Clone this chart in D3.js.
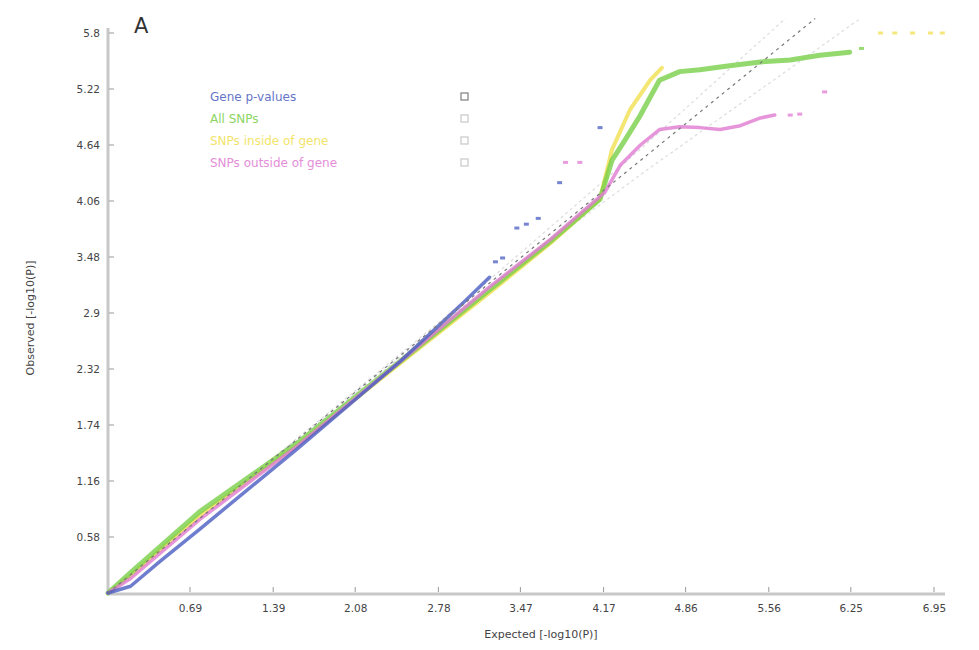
<!DOCTYPE html>
<html><head><meta charset="utf-8">
<script src="https://cdn.jsdelivr.net/npm/d3@7"></script>
<style>body{margin:0;background:#fff;} svg{display:block;}</style>
</head><body><svg id="c" width="979" height="650"></svg>
<script>
const xTicks = [0.69, 1.39, 2.08, 2.78, 3.47, 4.17, 4.86, 5.56, 6.25, 6.95];
const yTicks = [0.58, 1.16, 1.74, 2.32, 2.9, 3.48, 4.06, 4.64, 5.22, 5.8];
const seriesNames = ["Gene p-values", "All SNPs", "SNPs inside of gene", "SNPs outside of gene"];
const seriesColors = ["#4a5cc0", "#78cf48", "#f0e050", "#e07ad2"];

// [expected, observed]
const geneLine = [[0,0],[0.19,0.07],[0.44,0.33],[0.77,0.66],[1.6,1.50],[2.46,2.40],[3.0,3.02],[3.21,3.27]];
const genePts = [[3.26,3.43],[3.32,3.47],[3.44,3.78],[3.52,3.82],[3.62,3.88],[3.80,4.25],[4.14,4.82]];
const allLine = [[0,0],[0.19,0.21],[0.77,0.84],[1.6,1.56],[2.46,2.40],[3.2,3.13],[3.72,3.64],[4.14,4.08],[4.24,4.48],[4.35,4.69],[4.48,4.95],[4.64,5.31],[4.81,5.40],[4.98,5.42],[5.23,5.46],[5.49,5.50],[5.74,5.52],[5.99,5.57],[6.24,5.60]];
const allPts = [[6.34,5.64]];
const insideLine = [[0,0],[0.19,0.18],[0.77,0.80],[1.6,1.54],[2.46,2.38],[3.2,3.10],[3.72,3.62],[4.14,4.08],[4.24,4.59],[4.39,5.00],[4.56,5.31],[4.66,5.44]];
const insidePts = [[6.50,5.80],[6.62,5.80],[6.77,5.80],[6.92,5.80],[7.02,5.80]];
const outsideLine = [[0,0],[0.19,0.15],[0.77,0.76],[1.6,1.53],[2.46,2.40],[3.2,3.16],[3.72,3.66],[4.18,4.15],[4.31,4.43],[4.48,4.64],[4.64,4.80],[4.81,4.83],[4.98,4.82],[5.15,4.80],[5.32,4.84],[5.49,4.92],[5.61,4.95]];
const outsidePts = [[3.85,4.46],[3.97,4.46],[5.74,4.95],[5.82,4.96],[6.03,5.19]];
const diagLine = [[0,0],[5.95,5.95]];
const ciUpper = [[0,0],[3,3.02],[4.5,4.62],[5.70,5.95]];
const ciLower = [[0,0],[3,2.98],[4.5,4.35],[6.33,5.95]];

const svg = d3.select("#c");
const x = d3.scaleLinear().domain([0, 6.95]).range([108, 934]);
const y = d3.scaleLinear().domain([0, 5.8]).range([593, 33]);

// axes
const gx = svg.append("g").attr("transform","translate(0,593)")
  .call(d3.axisBottom(x).tickValues(xTicks).tickSize(0).tickPadding(12).tickFormat(d=>d));
gx.select(".domain").remove();
const gy = svg.append("g").attr("transform","translate(108,0)")
  .call(d3.axisLeft(y).tickValues(yTicks).tickSize(0).tickPadding(8).tickFormat(d=>d));
gy.select(".domain").remove();
svg.selectAll(".tick text").attr("font-family","DejaVu Sans").attr("font-size",10.5).attr("fill","#444");

svg.append("line").attr("x1",108).attr("x2",945).attr("y1",594).attr("y2",594).attr("stroke","#c8c8c8").attr("stroke-width",3);
svg.append("line").attr("x1",108).attr("x2",108).attr("y1",28).attr("y2",594).attr("stroke","#c8c8c8").attr("stroke-width",3);
// tick marks
svg.append("g").selectAll("line").data(xTicks).join("line")
  .attr("x1",d=>x(d)).attr("x2",d=>x(d)).attr("y1",592).attr("y2",587).attr("stroke","#999").attr("stroke-width",1);
svg.append("g").selectAll("line").data(yTicks).join("line")
  .attr("x1",109).attr("x2",114).attr("y1",d=>y(d)).attr("y2",d=>y(d)).attr("stroke","#999").attr("stroke-width",1);

const line = d3.line().x(d=>x(d[0])).y(d=>y(d[1])).curve(d3.curveLinear);

// reference lines
svg.append("path").attr("d",line(ciUpper)).attr("fill","none").attr("stroke","#dcdcdc").attr("stroke-width",1.2).attr("stroke-dasharray","3,3");
svg.append("path").attr("d",line(ciLower)).attr("fill","none").attr("stroke","#dcdcdc").attr("stroke-width",1.2).attr("stroke-dasharray","3,3");

const lines = [insideLine, allLine, outsideLine, geneLine];
const idx = [2,1,3,0];
const widths = [3.5, 5, 4, 3.5];
lines.forEach((l,i)=>{
  svg.append("path").attr("d",line(l)).attr("fill","none")
    .attr("stroke",seriesColors[idx[i]]).attr("stroke-width",widths[idx[i]])
    .attr("stroke-opacity",0.8).attr("stroke-linejoin","round").attr("stroke-linecap","round");
});
svg.append("path").attr("d",line(diagLine)).attr("fill","none").attr("stroke","#777").attr("stroke-width",1.2).attr("stroke-dasharray","3,4");

const pts = [[genePts,0],[allPts,1],[insidePts,2],[outsidePts,3]];
pts.forEach(([p,i])=>{
  svg.append("g").selectAll("rect").data(p).join("rect")
    .attr("x",d=>x(d[0])-2.5).attr("y",d=>y(d[1])-1.5).attr("width",5).attr("height",3)
    .attr("fill",seriesColors[i]).attr("opacity",0.75);
});

// legend
const lg = svg.append("g");
seriesNames.forEach((n,i)=>{
  lg.append("text").attr("x",210).attr("y",101+i*22).text(n)
    .attr("font-family","DejaVu Sans").attr("font-size",12).attr("fill",seriesColors[i]).attr("opacity",0.85);
  lg.append("rect").attr("x",461).attr("y",93+i*22).attr("width",7).attr("height",7)
    .attr("fill","none").attr("stroke",i==0?"#888":"#ccc").attr("stroke-width",1.3);
});

svg.append("text").attr("x",134).attr("y",33).text("A").attr("font-family","DejaVu Sans").attr("font-size",21).attr("fill","#333");
svg.append("text").attr("x",541).attr("y",638).attr("text-anchor","middle").text("Expected [-log10(P)]")
  .attr("font-family","DejaVu Sans").attr("font-size",11).attr("fill","#444");
svg.append("text").attr("transform","translate(34,318) rotate(-90)").attr("text-anchor","middle").text("Observed [-log10(P)]")
  .attr("font-family","DejaVu Sans").attr("font-size",11).attr("fill","#444");
</script></body></html>
